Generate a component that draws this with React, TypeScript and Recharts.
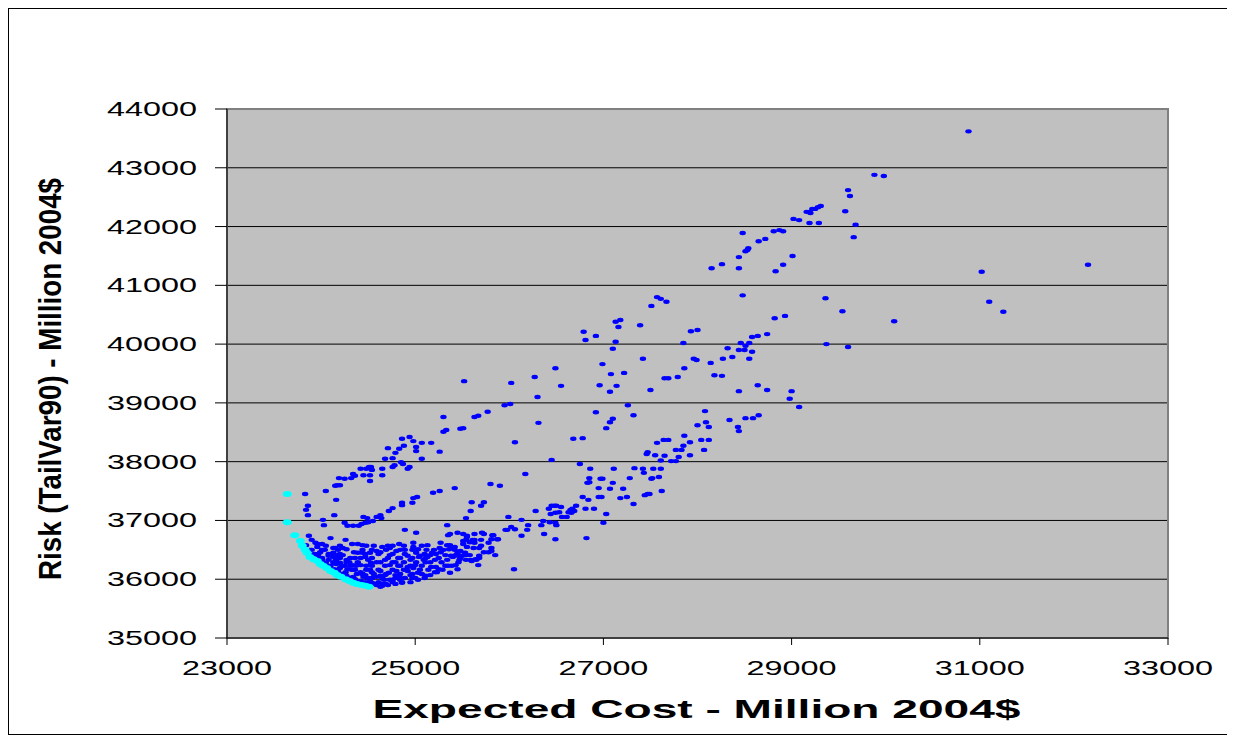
import { ScatterChart, Scatter, XAxis, YAxis, CartesianGrid, ReferenceArea } from "recharts";

type Pt = [number, number];

const costTicks = [23000, 25000, 27000, 29000, 31000, 33000];
const riskTicks = [35000, 36000, 37000, 38000, 39000, 40000, 41000, 42000, 43000, 44000];

// cyan series: the efficient frontier
const efficientFrontier: Pt[] = [
  [23640, 37450], [23640, 36970], [23720, 36750], [23780, 36650], [23800, 36570], [23830, 36500],
  [23850, 36450], [23880, 36380], [23920, 36340], [23960, 36310], [23990, 36260], [24020, 36230],
  [24060, 36190], [24100, 36140], [24140, 36110], [24170, 36070], [24210, 36040], [24260, 36000],
  [24300, 35970], [24340, 35940], [24380, 35920], [24430, 35900], [24470, 35890], [24510, 35870],
];

// blue series, split by area of the cloud
const upperBranch: Pt[] = [
  [30880, 43620], [29880, 42880], [29980, 42860], [29600, 42620], [29620, 42520], [29160, 42250],
  [29190, 42250], [29220, 42300], [29250, 42300], [29280, 42330], [29310, 42350], [29570, 42260],
  [29190, 42060], [29290, 42060], [29680, 42030], [29660, 41820], [31020, 41230], [32150, 41350],
  [29360, 40780], [29540, 40560], [30090, 40390], [31100, 40720], [31250, 40550], [29370, 40000],
  [29600, 39950], [29020, 42130], [29080, 42110], [29200, 42230], [28480, 41890], [28810, 41920],
  [28870, 41940], [28910, 41920], [28650, 41750], [28720, 41790], [28530, 41600], [28540, 41630],
  [28150, 41290], [28260, 41360], [28440, 41480], [28510, 41580], [28440, 41290], [28830, 41240],
  [28910, 41350], [29010, 41500], [28480, 40830], [28820, 40440], [28930, 40480], [28740, 40170],
  [28580, 40120], [28640, 40140], [28460, 40020], [28550, 40020], [28510, 39970], [28320, 39930],
  [28440, 39900], [28500, 39900], [28580, 39870], [28140, 39680], [28270, 39750], [28370, 39780],
  [28550, 39750], [28180, 39470], [28260, 39460], [28640, 39300], [28740, 39220], [28440, 39200],
  [29000, 39200], [28980, 39070], [29080, 38930], [28080, 38860], [28090, 38670], [28120, 38590],
  [28340, 38710], [28510, 38740], [28590, 38740], [28650, 38790], [28430, 38590], [28440, 38520],
  [28040, 38370], [28120, 38370], [28070, 38200], [27570, 40800], [27610, 40770], [27670, 40720],
  [27510, 40650],
];

const middleBranch: Pt[] = [
  [27130, 40380], [27180, 40410], [27160, 40290], [27390, 40320], [26790, 40210], [26920, 40140],
  [26810, 40070], [27130, 40040], [27100, 39920], [27850, 40020], [27930, 40220], [28000, 40240],
  [27960, 39750], [27990, 39730], [27860, 39590], [27420, 39750], [26990, 39660], [27080, 39490],
  [27220, 39510], [26490, 39590], [26270, 39440], [26020, 39340], [26550, 39290], [26960, 39300],
  [27140, 39290], [27070, 39190], [27650, 39420], [27690, 39420], [27790, 39440], [27500, 39220],
  [26300, 39100], [25950, 38960], [26010, 38980], [27260, 38960], [27320, 38790], [26920, 38840],
  [27100, 38730], [27070, 38670], [27030, 38570], [26310, 38660], [28000, 38620], [26060, 38330],
  [26680, 38390], [26780, 38400], [27860, 38440], [27920, 38330], [27570, 38320], [27640, 38370],
  [27690, 38370], [27850, 38270], [27770, 38200], [27830, 38200], [27470, 38160], [27460, 38130],
  [27550, 38110], [27650, 38100], [27800, 38080], [27920, 38110], [27610, 38020], [27720, 38010],
  [27770, 38010], [26450, 38030], [26750, 37960], [26860, 37880], [27110, 37880], [27330, 37890],
  [27420, 37880], [27530, 37880], [27610, 37880], [27430, 37810], [26170, 37790], [26850, 37720],
  [26970, 37710], [27280, 37720], [27520, 37720], [27590, 37740],
];

const lowerBranch: Pt[] = [
  [25480, 38560], [25510, 38570], [27510, 37710], [27620, 37500], [27100, 37640], [26850, 37650],
  [26830, 37640], [26990, 37710], [26950, 37550], [27070, 37540], [27210, 37540], [26950, 37400],
  [26980, 37400], [27180, 37380], [27250, 37400], [27320, 37280], [27440, 37430], [27470, 37450],
  [27490, 37450], [26780, 37400], [26840, 37350], [26810, 37200], [26900, 37200], [27030, 37110],
  [27000, 36960], [26820, 36700], [26490, 36680], [25800, 37620], [25900, 37590], [25420, 37550],
  [25600, 37310], [25590, 37160], [25540, 37040], [25700, 37250], [25730, 37310], [25990, 37060],
  [26130, 37010], [26280, 37160], [26420, 37200], [26450, 37250], [26480, 37250], [26500, 37250],
  [26550, 37230], [26530, 37140], [26440, 37110], [26490, 37130], [26560, 37060], [26610, 37060],
  [26630, 37140], [26650, 37180], [26670, 37200], [26690, 37160], [26710, 37250], [26660, 37130],
  [26360, 36990], [26430, 36970], [26490, 36960], [26500, 36920], [26340, 36920], [26200, 36920],
  [26190, 36840], [26370, 36770], [26130, 36740], [25960, 36840], [25980, 36840], [26020, 36890],
  [26060, 36850], [25880, 36680], [25820, 36750], [25730, 36770], [25700, 36670], [25630, 36770],
  [25630, 36670], [25630, 36620], [25510, 36650], [25550, 36740], [25450, 36790], [25510, 36770],
  [25370, 36770], [25700, 36570], [25810, 36530], [25810, 36480], [25620, 36530], [25480, 36480],
  [25530, 36430], [25580, 36410], [25730, 36460], [25780, 36460], [25850, 36410], [25370, 36580],
  [25420, 36550], [25380, 36400], [25440, 36410], [25460, 36400], [25470, 36330], [25460, 36290],
  [25600, 36310], [25640, 36340], [25680, 36360], [25670, 36240], [25390, 36230], [25370, 36110],
  [26050, 36170],
];

const leftBand: Pt[] = [
  [25520, 39370], [25300, 38760], [25630, 38760], [25670, 38780], [25770, 38850], [25300, 38510],
  [25330, 38540], [24860, 38390], [24940, 38420], [24980, 38350], [25070, 38320], [25170, 38320],
  [24710, 38230], [24830, 38220], [24880, 38270], [25010, 38250], [25010, 38180], [24790, 38150],
  [25260, 38170], [24680, 38050], [24760, 38060], [25070, 38050], [24780, 37940], [24760, 37910],
  [24850, 37990], [24870, 37960], [24920, 37880], [24940, 37910], [24420, 37880], [24480, 37880],
  [24510, 37910], [24530, 37910], [24540, 37860], [24650, 37880], [24650, 37770], [24450, 37770],
  [24520, 37770], [24520, 37670], [24340, 37790], [24320, 37720], [24360, 37760], [24190, 37720],
  [24250, 37710], [24150, 37590], [24170, 37600], [24200, 37600], [24050, 37500], [24160, 37350],
  [23830, 37450], [23860, 37250], [23840, 37180], [23860, 37090], [24140, 37090], [24020, 37010],
  [25190, 37470], [25260, 37500], [24980, 37380], [25020, 37400], [24860, 37300], [24860, 37260],
  [24970, 37300], [24760, 37210], [24720, 37160], [24450, 37060], [24490, 37040], [24590, 37060],
  [24630, 37090], [24640, 37040],
];

const denseCluster: Pt[] = [
  [24030, 36920], [24250, 36960], [24280, 36910], [24340, 36910], [24400, 36910], [24430, 36940],
  [24470, 36960], [24500, 36970], [24550, 36990], [24890, 36840], [25010, 36790], [25340, 36920],
  [23870, 36740], [23900, 36670], [23940, 36620], [23960, 36600], [24010, 36600], [23960, 36550],
  [24130, 36530], [24150, 36530], [24230, 36530], [24270, 36510], [24330, 36600], [24390, 36600],
  [24440, 36580], [24350, 36460], [24390, 36450], [24440, 36450], [24560, 36570], [24650, 36550],
  [24590, 36480], [24630, 36460], [24760, 36570], [24830, 36600], [24800, 36480], [24920, 36400],
  [24980, 36550], [25030, 36510], [25010, 36450], [25040, 36380], [25130, 36380], [25160, 36410],
  [25180, 36450], [25200, 36500], [25260, 36530], [25270, 36460], [25300, 36500], [25340, 36580],
  [25360, 36510], [25390, 36550], [25420, 36500], [25350, 36750], [25550, 36720], [25710, 36790],
  [25610, 36670], [25540, 36670], [25510, 36600], [25580, 36630], [25550, 36550], [25680, 36530],
  [25780, 36620], [25810, 36680], [25830, 36750], [25870, 36680], [25680, 36400], [25650, 36330],
  [25590, 36330], [25540, 36330], [25500, 36400], [25540, 36410], [25480, 36360], [25430, 36410],
  [25400, 36380], [25340, 36330], [25350, 36230], [25430, 36240], [25450, 36170], [25250, 36170],
  [25220, 36210], [25230, 36120], [25170, 36210], [25100, 36020], [25160, 36070], [25030, 36110],
  [25050, 36160], [24980, 36190], [24920, 36210], [24920, 36140], [24840, 36230], [24800, 36140],
  [24730, 36240], [24720, 36110], [24670, 35990], [24690, 35920], [24790, 36070], [24630, 36060],
  [24590, 36040], [24540, 36120], [24630, 36140], [24590, 36290], [24530, 36280], [24480, 36230],
  [24500, 36330], [24470, 36380], [24420, 36360], [24360, 36360], [24300, 36290], [24340, 36240],
  [24270, 36330], [24230, 36410], [24170, 36410], [24130, 36380], [24130, 36450], [24200, 36280],
  [24200, 36190], [24280, 36170], [24360, 36160], [24420, 36120], [24380, 36090], [24450, 36040],
  [24340, 36040], [24490, 36020], [24520, 35990], [24420, 35950], [24540, 35940], [24490, 35920],
  [24630, 35870], [24660, 35920], [24040, 36500], [24100, 36410], [24200, 36360], [24310, 36230],
  [24420, 36240], [24520, 36160], [24680, 36330], [24730, 36410], [24840, 36360], [24890, 36500],
  [24950, 36330], [25000, 36240], [25110, 36290], [25210, 36330], [25320, 36410], [24840, 36020],
  [24950, 36070], [24760, 35990], [24570, 35920], [24680, 36070], [24470, 36070], [24080, 36330],
  [24160, 36260], [24260, 36120], [24360, 36000], [24790, 36290], [25050, 36400], [24730, 36530],
  [24520, 36450], [24260, 36670], [24100, 36700], [24980, 36620], [25130, 36580], [25270, 36620],
  [25090, 36330], [25450, 36450], [25530, 36450], [24810, 36040],
];

// the solid core of the cloud, just above the frontier
const clusterCore: Pt[] = [
  [24610, 35950], [24760, 35950], [24860, 35950],
  [24540, 36020], [24650, 36020], [24790, 36020], [24890, 36020], [25000, 36020],
  [24440, 36090], [24560, 36090], [24690, 36090], [24840, 36090], [24970, 36090], [25070, 36090],
  [24330, 36160], [24480, 36160], [24610, 36160], [24760, 36160], [24880, 36160], [25140, 36160], [25290, 36160],
  [24220, 36230], [24370, 36230], [24540, 36230], [24680, 36230], [24820, 36230], [24950, 36230], [25070, 36230], [25320, 36230],
  [24130, 36290], [24270, 36290], [24390, 36290], [24630, 36290], [24760, 36290], [24880, 36290], [25010, 36290], [25160, 36290], [25280, 36290],
  [24010, 36360], [24150, 36360], [24310, 36360], [24540, 36360], [24710, 36360], [24820, 36360], [24970, 36360], [25110, 36360], [25250, 36360],
  [23970, 36430], [24080, 36430], [24200, 36430], [24470, 36430], [24610, 36430], [24760, 36430], [24890, 36430], [25100, 36430], [25220, 36430],
  [23900, 36500], [24010, 36500], [24180, 36500], [24440, 36500], [24540, 36500], [24690, 36500], [24840, 36500], [24970, 36500], [25120, 36500],
  [24050, 36570], [24200, 36570], [24480, 36570], [24710, 36570], [24880, 36570], [25070, 36570],
];

// points packed against the frontier
const frontierEdge: Pt[] = [
  [23840, 36580], [23880, 36500], [23930, 36430], [23970, 36380], [24010, 36330], [24050, 36280],
  [24100, 36230], [24140, 36170], [24180, 36140], [24220, 36090], [24270, 36060], [24310, 36020],
  [24360, 35990], [24420, 35970], [24470, 35950], [24520, 35940], [24590, 35900], [24650, 35890],
  [24710, 35900], [24790, 35920], [24860, 35940], [24950, 35950], [25030, 35990],
  [23990, 36460], [24080, 36400], [24160, 36310], [24250, 36230], [24330, 36160], [24440, 36090],
  [24540, 36020], [24730, 35990], [24840, 35990], [24970, 36020], [25110, 36060], [25210, 36120],
];

const toRows = (pts: Pt[]) => pts.map(([cost, risk]) => ({ cost, risk }));
const frontierData = toRows(efficientFrontier);
const portfolioData = toRows([
  ...upperBranch, ...middleBranch, ...lowerBranch, ...leftBand, ...denseCluster, ...clusterCore, ...frontierEdge,
]);

const FONT = '"Liberation Sans", Arial, sans-serif';

const YTick = ({ x, y, payload }: any) => (
  <text x={x - 16} y={y + 7} textAnchor="end" fontFamily={FONT} fontSize={20} fill="#000"
    textLength={90} lengthAdjust="spacingAndGlyphs">
    {payload.value}
  </text>
);

const XTick = ({ x, y, payload }: any) => (
  <text x={x} y={y + 28} textAnchor="middle" fontFamily={FONT} fontSize={20} fill="#000"
    textLength={90} lengthAdjust="spacingAndGlyphs">
    {payload.value}
  </text>
);

const XTitle = (props: any) => {
  const vb = props.viewBox || { x: 218, y: 629, width: 941 };
  return (
    <text x={vb.x + vb.width / 2 - 1} y={vb.y + 80} textAnchor="middle" fontFamily={FONT}
      fontWeight="bold" fontSize={25} fill="#000" textLength={648} lengthAdjust="spacingAndGlyphs">
      Expected Cost - Million 2004$
    </text>
  );
};

const YTitle = () => (
  <text x={52} y={370} transform="rotate(-90, 52, 370)" textAnchor="middle" fontFamily={FONT}
    fontWeight="bold" fontSize={31} fill="#000" textLength={402} lengthAdjust="spacingAndGlyphs">
    Risk (TailVar90) - Million 2004$
  </text>
);

const blueDot = (p: any) => <ellipse cx={p.cx} cy={p.cy} rx={3.2} ry={2.2} fill="#0000FF" />;
const cyanDot = (p: any) => <ellipse cx={p.cx} cy={p.cy} rx={4.5} ry={3} fill="#00FFFF" />;

export default function App() {
  return (
    <div style={{ width: 1220, height: 725, border: "1px solid #000", background: "#fff" }}>
      <ScatterChart width={1220} height={725} margin={{ top: 100, right: 61, bottom: 0, left: 0 }}>
        <CartesianGrid horizontal vertical={false} stroke="#000" fill="#C0C0C0" fillOpacity={1} />
        <ReferenceArea x1={23000} x2={33000} y1={35000} y2={44000} fill="none" stroke="#808080" strokeWidth={2} />
        <XAxis type="number" dataKey="cost" domain={[23000, 33000]} ticks={costTicks} interval={0}
          height={96} tickSize={7} tick={<XTick />} stroke="#000" label={{ content: XTitle }} />
        <YAxis type="number" dataKey="risk" domain={[35000, 44000]} ticks={riskTicks} interval={0}
          width={218} tickSize={12} tick={<YTick />} stroke="#000" label={{ content: YTitle }} />
        <Scatter data={portfolioData} shape={blueDot} isAnimationActive={false} />
        <Scatter data={frontierData} shape={cyanDot} isAnimationActive={false} />
      </ScatterChart>
    </div>
  );
}
